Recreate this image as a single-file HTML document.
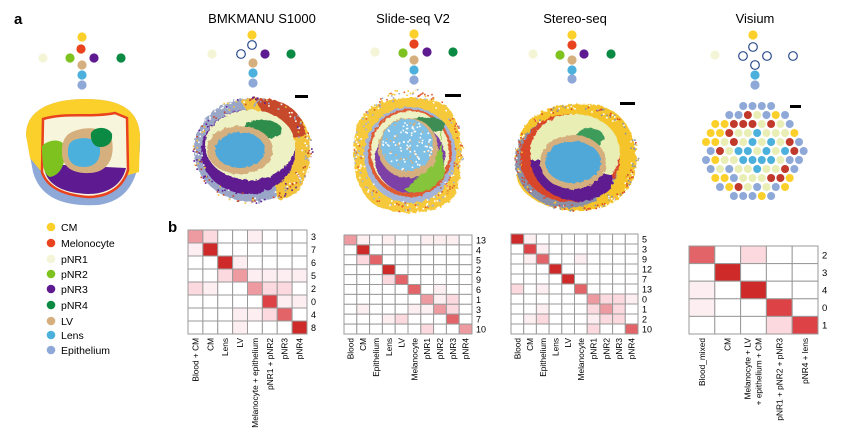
<!DOCTYPE html>
<html><head><meta charset="utf-8"><style>
html,body{margin:0;padding:0;background:#fff;}
svg{display:block;font-family:"Liberation Sans",sans-serif;}
</style></head><body>
<svg id="s" width="842" height="439" viewBox="0 0 842 439" xmlns="http://www.w3.org/2000/svg">
<defs>
<filter id="rough" x="-10%" y="-10%" width="120%" height="120%">
<feTurbulence type="fractalNoise" baseFrequency="0.25" numOctaves="2" seed="3"/>
<feDisplacementMap in="SourceGraphic" scale="4"/>
</filter>
</defs>
<text x="14" y="24" font-size="15" font-weight="bold">a</text>
<text x="262" y="23" font-size="13" text-anchor="middle">BMKMANU S1000</text>
<text x="413" y="23" font-size="13" text-anchor="middle">Slide-seq V2</text>
<text x="575" y="23" font-size="13" text-anchor="middle">Stereo-seq</text>
<text x="755" y="23" font-size="13" text-anchor="middle">Visium</text>

<!-- left schematic -->
<path d="M26,135 C26,108 55,99 85,99 C118,99 138,108 140,135 C141,170 134,200 98,205 C62,207 40,197 33,172 Z" fill="#8ea8d8"/>
<path d="M26,135 C26,108 55,99 85,99 C118,99 138,108 140,135 L139,172 L118,178 L40,170 L30,158 Z" fill="#fcd02a"/>
<path d="M43,119 C65,112 90,118 115,113 L127,118 L128,170 C122,190 105,197 88,197 C62,195 47,187 42,172 Z" fill="#f7f6dc" stroke="#e8431e" stroke-width="2.5"/>
<path d="M44,164 L126,168 C121,188 104,194 88,194 C63,193 49,185 45,172 Z" fill="#5e1a91"/>
<path d="M42,146 C48,140 60,138 64,145 C67,160 62,175 50,177 C44,175 42,165 42,146Z" fill="#7dc21f"/>
<path d="M70,133 C85,125 105,127 112,140 C115,158 108,172 90,173 C70,174 61,165 62,150 C62,142 65,136 70,133Z" fill="#d5b07e"/>
<path d="M74,140 C84,136 97,138 100,148 C101,160 95,167 84,167 C72,167 67,160 68,150 C68,145 70,142 74,140Z" fill="#4cb0dd"/>
<path d="M91,133 C95,126 108,126 112,134 C113,142 108,147 100,147 C94,147 90,141 91,133Z" fill="#0b8a43"/>

<g id="crosses"></g>
<g id="tissues">
<!-- BMK -->
<g filter="url(#rough)">
<ellipse cx="252" cy="150" rx="58" ry="52" fill="#9aa6c8"/>
<path d="M240,100 C275,92 305,110 310,140 C312,175 300,198 278,200 L270,150 Z" fill="#f2c23a"/>
<path d="M255,98 C285,98 302,110 306,135 L290,140 L265,118 Z" fill="#c5482a"/>
<ellipse cx="248" cy="152" rx="47" ry="42" fill="#5e1a91"/>
<ellipse cx="250" cy="145" rx="45" ry="35" fill="#eef1c4"/>
<ellipse cx="262" cy="130" rx="20" ry="10" fill="#2f8d4c"/>
<ellipse cx="240" cy="150" rx="33" ry="24" fill="#d5b07e"/>
<ellipse cx="240" cy="150" rx="25" ry="18" fill="#4fa8d8"/>
</g>
<rect x="295" y="95" width="13" height="3" fill="#000"/>
<!-- Slide-seq -->
<g filter="url(#rough)">
<path d="M360,120 C375,95 420,92 445,105 C465,120 465,170 455,195 C440,215 400,218 375,205 C352,190 348,145 360,120Z" fill="#f5c93a"/>
<ellipse cx="410" cy="155" rx="46" ry="48" fill="#a4b4d8"/>
<ellipse cx="410" cy="153" rx="42" ry="44" fill="#df5c33"/>
<ellipse cx="410" cy="152" rx="39" ry="41" fill="#eef1c4"/>
<ellipse cx="410" cy="158" rx="35" ry="35" fill="#7b3fa6"/>
<path d="M425,170 C440,150 445,140 440,130 L445,175 C430,195 410,195 405,190Z" fill="#86c43a"/>
<ellipse cx="425" cy="125" rx="20" ry="8" fill="#3d8d55"/>
<ellipse cx="408" cy="148" rx="30" ry="30" fill="#d5b07e"/>
<ellipse cx="407" cy="145" rx="26" ry="26" fill="#7fc0e6"/>
</g>
<rect x="445" y="94" width="16" height="3" fill="#000"/>
<!-- Stereo-seq -->
<g filter="url(#rough)">
<path d="M520,140 C525,110 560,102 590,104 C620,106 636,130 636,160 C636,185 622,205 590,210 C555,214 520,200 516,175Z" fill="#f5c42a"/>
<ellipse cx="567" cy="162" rx="52" ry="46" fill="#8a8fa8"/>
<ellipse cx="570" cy="158" rx="50" ry="44" fill="#d9462a"/>
<ellipse cx="575" cy="152" rx="45" ry="38" fill="#e9eeb5"/>
<path d="M530,160 C535,190 560,205 590,200 C610,195 615,185 612,175 L540,160Z" fill="#5e1a91"/>
<ellipse cx="590" cy="138" rx="14" ry="10" fill="#3d9c5a"/>
<ellipse cx="573" cy="162" rx="33" ry="27" fill="#d5b07e"/>
<ellipse cx="573" cy="162" rx="28" ry="21" fill="#4fa8d8"/>
</g>
<rect x="620" y="102" width="15" height="3" fill="#000"/>
<rect x="790" y="105" width="11" height="3" fill="#000"/>
<g id="speck"></g>
<g id="visium"></g>
</g>

<g font-size="10.5" id="legend"></g>

<text x="168" y="232" font-size="15" font-weight="bold">b</text>
<g id="heat" font-size="9"></g>
</svg>
<script>
var NS="http://www.w3.org/2000/svg",s=document.getElementById('s');
function el(t,a,p,txt){var e=document.createElementNS(NS,t);for(var k in a)e.setAttribute(k,a[k]);if(txt!=null)e.textContent=txt;(p||s).appendChild(e);return e;}
var C={Y:'#fcd02a',R:'#e8431e',L:'#f3f5d6',G:'#7dc21f',P:'#5e1a91',N:'#0b8a43',T:'#d5b07e',B:'#4cb0dd',S:'#8ea8d8'};
var cr=document.getElementById('crosses');
function dot(x,y,c){if(c=='O')el('circle',{cx:x,cy:y,r:4.3,fill:'#fff',stroke:'#2b4a8c','stroke-width':1.2},cr);else el('circle',{cx:x,cy:y,r:4.6,fill:C[c]},cr);}
[[82,37,'Y'],[81,49,'R'],[43,58,'L'],[70,58,'G'],[94,58,'P'],[121,58,'N'],[82,65,'T'],[82,75,'B'],[82,85,'S']].forEach(d=>dot(d[0],d[1],d[2]));
[[252,35,'Y'],[252,45,'O'],[241,54,'O'],[265,54,'P'],[291,54,'N'],[212,54,'L'],[253,63,'T'],[253,73,'B'],[253,83,'S']].forEach(d=>dot(d[0],d[1],d[2]));
[[414,34,'Y'],[414,44,'R'],[375,52,'L'],[403,53,'G'],[427,52,'P'],[453,52,'N'],[414,60,'T'],[414,70,'B'],[414,80,'S']].forEach(d=>dot(d[0],d[1],d[2]));
[[572,35,'Y'],[572,45,'R'],[533,54,'L'],[560,55,'G'],[584,54,'P'],[611,54,'N'],[572,60,'T'],[572,70,'B'],[572,79,'S']].forEach(d=>dot(d[0],d[1],d[2]));
[[753,35,'Y'],[753,47,'O'],[743,56,'O'],[767,56,'O'],[793,56,'O'],[715,55,'L'],[755,65,'O'],[755,75,'B'],[755,85,'S']].forEach(d=>dot(d[0],d[1],d[2]));
var seed=7;function rnd(){seed=(seed*9301+49297)%233280;return seed/233280;}
// speckle
var sp=document.getElementById('speck');
function speck(cx,cy,rx,ry,n,cols,rin){for(var k=0;k<n;k++){var a=rnd()*6.283,r=rin+(1-rin)*Math.sqrt(rnd());el('rect',{x:cx+Math.cos(a)*rx*r,y:cy+Math.sin(a)*ry*r,width:1.6,height:1.6,fill:cols[Math.floor(rnd()*cols.length)]},sp);}}
speck(252,150,60,54,260,['#fff','#9aa6c8','#c5482a','#5e1a91','#f2c23a'],0.8);
speck(408,150,55,62,300,['#fff','#a4b4d8','#f5c93a','#df5c33'],0.82);
speck(407,145,25,25,120,['#fff','#fff','#d5b07e'],0);
speck(576,157,62,54,250,['#fff','#8a8fa8','#d9462a','#f5c42a'],0.85);
// visium
var vg=document.getElementById('visium');
for(var i=0;i<11;i++){var y=106+9*i;for(var j=0;j<12;j++){var x=706+9.3*j+(i%2?4.65:0);var dx=(x-755)/50,dy=(y-152)/48,d=Math.sqrt(dx*dx+dy*dy);if(d>1.02)continue;var r=rnd(),c;
if(d<0.4)c=r<0.7?'#4cb0dd':'#e9eeb5';else if(d<0.62)c=r<0.6?'#e9eeb5':(r<0.8?'#4cb0dd':'#c0392b');else if(d<0.8)c=r<0.55?'#c0392b':(r<0.8?'#8ea8d8':'#e9eeb5');else c=r<0.5?'#fcd02a':'#8ea8d8';
el('circle',{cx:x,cy:y,r:4,fill:c},vg);}}
var lg=document.getElementById('legend');
[['CM','Y',227],['Melonocyte','R',243],['pNR1','L',259],['pNR2','G',274],['pNR3','P',289],['pNR4','N',305],['LV','T',321],['Lens','B',335],['Epithelium','S',350]].forEach(function(d){el('circle',{cx:51,cy:d[2],r:4.3,fill:C[d[1]]},lg);el('text',{x:61,y:d[2]+4},lg,d[0]);});
var H={D:'#cf2a2a',d:'#dd4346',M:'#e36468',P:'#ed9aa0',L:'#fbd9de',V:'#fdeff1','0':'#fff'};
var hg=document.getElementById('heat');
function heat(x0,y0,x1,y1,rows,rl,cl,fs){var nr=rows.length,nc=rows[0].length,cw=(x1-x0)/nc,ch=(y1-y0)/nr;
el('rect',{x:x0,y:y0,width:x1-x0,height:y1-y0,fill:'#fff'},hg);
rows.forEach(function(r,i){for(var j=0;j<nc;j++)el('rect',{x:x0+j*cw,y:y0+i*ch,width:cw,height:ch,fill:H[r[j]],stroke:'#9a9a9a','stroke-width':1},hg);
el('text',{x:x1+4,y:y0+i*ch+ch/2+3.5,'font-size':fs||9},hg,rl[i]);});
cl.forEach(function(t,j){var cx=x0+j*cw+cw/2;if(Array.isArray(t)){t.forEach(function(s,k){el('text',{transform:'translate('+(cx-3+k*11)+','+(y1+4)+') rotate(-90)','text-anchor':'end','font-size':8.3},hg,s);});}
else el('text',{transform:'translate('+(cx+3)+','+(y1+4)+') rotate(-90)','text-anchor':'end','font-size':8.3},hg,t);});}
heat(188,230,307,334,['PL00V000','VD000000','00DV0000','00LPVVVV','LV00PLL0','00000dVV','000VVLM0','000V000D'],
 ['3','7','6','5','2','0','4','8'],['Blood + CM','CM','Lens','LV','Melanocyte + epithelium','pNR1 + pNR2','pNR3','pNR4']);
heat(344,235,472,334,['PV0V00VVV0','0D00000000','0LM0000000','000D000000','000LM00000','00000M0V00','000000PVL0','0V000VVPL0','000VL000M0','000000L00P'],
 ['13','4','5','2','9','6','1','3','7','10'],['Blood','CM','Epithelium','Lens','LV','Melanocyte','pNR1','pNR2','pNR3','pNR4']);
heat(511,234,638,334,['DV00000000','0dV0000000','0VM00V0000','000D000000','0000D00000','L0V00M0000','000000PLLV','00V000LPL0','0VL000VLL0','000000L00M'],
 ['5','3','9','12','7','13','0','1','2','10'],['Blood','CM','Epithelium','Lens','LV','Melanocyte','pNR1','pNR2','pNR3','pNR4']);
heat(689,246,818,334,['M0L00','0D000','V0D00','V00d0','000Ld'],['2','3','4','0','1'],['Blood_mixed','CM',['Melanocyte + LV','+ epithelium + CM'],'pNR1 + pNR2 + pNR3','pNR4 + lens'],9.5);
</script>
</body></html>
